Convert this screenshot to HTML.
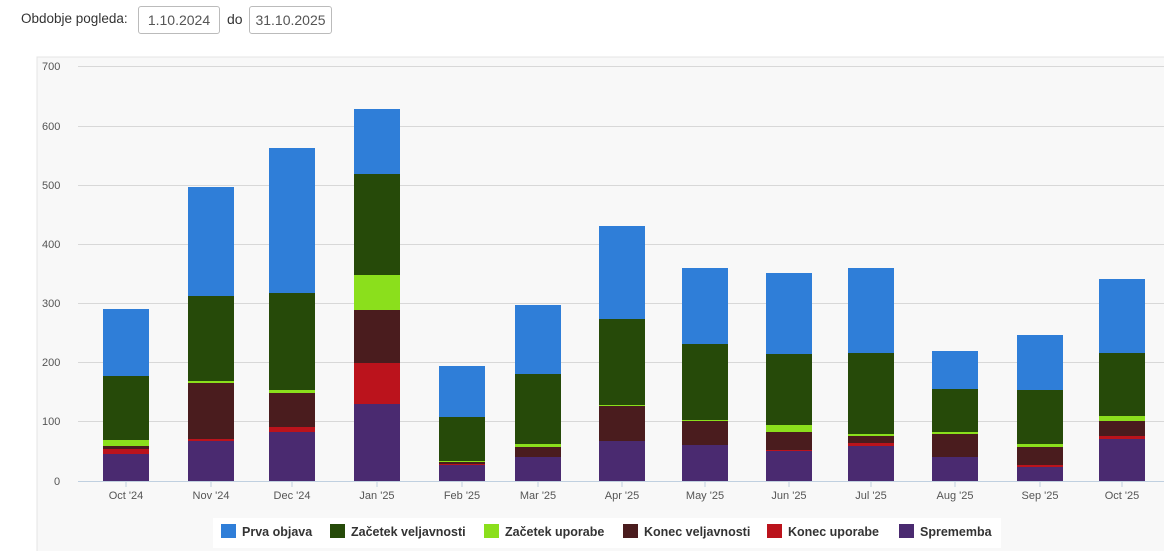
<!DOCTYPE html>
<html><head><meta charset="utf-8"><style>
body{margin:0;width:1164px;height:551px;background:#fff;font-family:"Liberation Sans",sans-serif;overflow:hidden;position:relative}
.lbl{position:absolute;left:21px;top:11px;font-size:13.5px;color:#333}
.box{position:absolute;top:6px;height:26px;border:1px solid #bbb;border-radius:3px;font-size:14px;color:#555;line-height:26px;text-align:center}
</style></head><body>
<div class="lbl">Obdobje pogleda:</div>
<div class="box" style="left:138px;width:80px">1.10.2024</div>
<div style="position:absolute;left:227px;top:11px;font-size:14px;color:#333">do</div>
<div class="box" style="left:249px;width:81px">31.10.2025</div>
<svg style="position:absolute;left:0;top:0" width="1164" height="551" font-family="Liberation Sans, sans-serif">
<rect x="37" y="57" width="1140" height="500" fill="#f8f8f8" stroke="#e4e4e4"/>
<g stroke="#d8d8d8" stroke-width="1">
<line x1="78" x2="1164" y1="66.5" y2="66.5"/><line x1="78" x2="1164" y1="126.5" y2="126.5"/>
<line x1="78" x2="1164" y1="185.5" y2="185.5"/><line x1="78" x2="1164" y1="244.5" y2="244.5"/>
<line x1="78" x2="1164" y1="303.5" y2="303.5"/><line x1="78" x2="1164" y1="362.5" y2="362.5"/>
<line x1="78" x2="1164" y1="421.5" y2="421.5"/>
</g>
<g font-size="11" fill="#555">
<text x="42" y="70">700</text><text x="42" y="130">600</text><text x="42" y="189">500</text>
<text x="42" y="248">400</text><text x="42" y="307">300</text><text x="42" y="366">200</text>
<text x="42" y="425">100</text><text x="54" y="485">0</text>
</g>
<g id="bars"></g>
<line x1="78" x2="1164" y1="481.5" y2="481.5" stroke="#c0d0e0"/>
<g id="xl" font-size="11" fill="#555" text-anchor="middle"></g>
<rect x="213" y="518" width="788" height="30" fill="#fff"/>
<g font-size="12.5" font-weight="bold" fill="#333">
<rect x="221" y="524" width="15" height="14" fill="#2f7ed8"/><text x="242" y="536">Prva objava</text>
<rect x="330" y="524" width="15" height="14" fill="#264a09"/><text x="351" y="536">Začetek veljavnosti</text>
<rect x="484" y="524" width="15" height="14" fill="#8bdf1c"/><text x="505" y="536">Začetek uporabe</text>
<rect x="623" y="524" width="15" height="14" fill="#4a1c1e"/><text x="644" y="536">Konec veljavnosti</text>
<rect x="767" y="524" width="15" height="14" fill="#bb131c"/><text x="788" y="536">Konec uporabe</text>
<rect x="899" y="524" width="15" height="14" fill="#4a2a70"/><text x="920" y="536">Sprememba</text>
</g>
</svg>
<script>
var cols=["#4a2a70","#bb131c","#4a1c1e","#8bdf1c","#264a09","#2f7ed8"];
var cx=[126,211,292,377,462,538,622,705,789,871,955,1040,1122];
var lab=["Oct '24","Nov '24","Dec '24","Jan '25","Feb '25","Mar '25","Apr '25","May '25","Jun '25","Jul '25","Aug '25","Sep '25","Oct '25"];
var d=[[454,449,446,440,376,309],[441,439,383,381,296,187],[432,427,393,390,293,148],[404,363,310,275,174,109],
[465,464,462,461,417,366],[457,457,447,444,374,305],[441,441,406,405,319,226],[445,445,421,420,344,268],
[451,450,432,425,354,273],[446,443,436,434,353,268],[457,457,434,432,389,351],[467,465,447,444,390,335],[439,436,421,416,353,279]];
var s="",t="";
for(var i=0;i<13;i++){var prev=481;for(var j=0;j<6;j++){var y=d[i][j];if(prev>y)s+='<rect x="'+(cx[i]-23)+'" y="'+y+'" width="46" height="'+(prev-y)+'" fill="'+cols[j]+'"/>';prev=y;}
t+='<line x1="'+cx[i]+'" x2="'+cx[i]+'" y1="481" y2="487" stroke="#c0d0e0"/><text x="'+cx[i]+'" y="499">'+lab[i]+'</text>';}
document.getElementById("bars").innerHTML=s;document.getElementById("xl").innerHTML=t;
</script>
</body></html>
